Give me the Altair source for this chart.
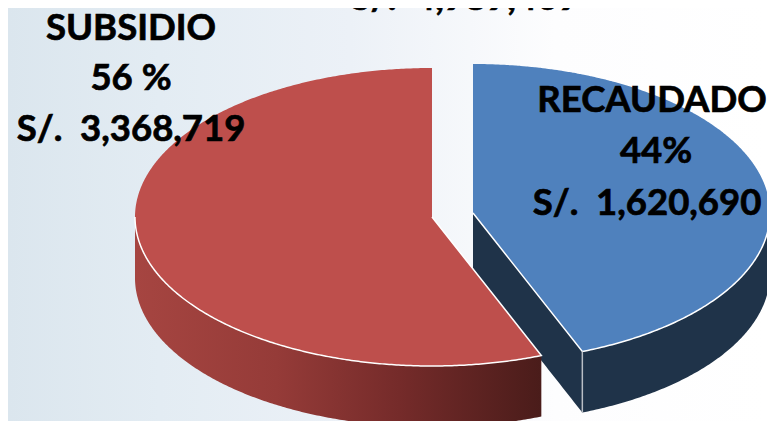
import altair as alt
import numpy as np
import pandas as pd

# Chart values
labels = ["RECAUDADO", "SUBSIDIO"]
shares = [44, 56]
pct_text = ["44%", "56 %"]
amount_text = ["S/.\u00a0\u00a01,620,690", "S/.\u00a0\u00a03,368,719"]
total_text = "S/.\u00a0\u00a04,989,409"

# Layout of the pseudo-3D pie (picture pixels)
W, H = 759, 413
RX, RY, DEPTH = 297.0, 149.0, 61.0
C_BLUE = (473.0, 213.0)
C_RED = (432.0, 217.0)
turn = shares[0] / sum(shares) * 2 * np.pi

x_s = alt.Scale(domain=[8, 767])
y_s = alt.Scale(domain=[421, 8])
X = alt.X("x:Q", scale=x_s, axis=None)
Y = alt.Y("y:Q", scale=y_s, axis=None)


def pt(c, t):
    return c[0] + RX * np.sin(t), c[1] - RY * np.cos(t)


def ell_low(c, x):
    return c[1] + RY * np.sqrt(np.clip(1 - ((x - c[0]) / RX) ** 2, 0, 1))


def ell_up(c, x):
    return c[1] - RY * np.sqrt(np.clip(1 - ((x - c[0]) / RX) ** 2, 0, 1))


def seg(c, x):
    tx, ty = pt(c, turn)
    return c[1] + (x - c[0]) * (ty - c[1]) / (tx - c[0])


def area(x, y, y2, fill):
    d = pd.DataFrame({"x": x, "y": y, "y2": y2})
    return alt.Chart(d).mark_area(fill=fill, interpolate="linear").encode(X, Y, y2="y2:Q")


def line(t_x, t_y, color="white", w=1.5):
    d = pd.DataFrame({"x": t_x, "y": t_y, "i": range(len(t_x))})
    return alt.Chart(d).mark_line(color=color, strokeWidth=w, interpolate="linear").encode(
        X, Y, order="i:Q"
    )


# Background
bg = alt.Chart(pd.DataFrame({"a": [0]})).mark_rect(
    fill=alt.Gradient(
        gradient="linear", x1=0, x2=1, y1=0, y2=0,
        stops=[
            alt.GradientStop(offset=0, color="#DBE6EE"),
            alt.GradientStop(offset=0.2, color="#E3ECF3"),
            alt.GradientStop(offset=0.45, color="#ECF1F7"),
            alt.GradientStop(offset=0.72, color="#FDFDFE"),
            alt.GradientStop(offset=1, color="#FFFFFF"),
        ],
    )
).encode(x=alt.value(0), x2=alt.value(W), y=alt.value(0), y2=alt.value(H))

# Blue slice
btx, bty = pt(C_BLUE, turn)
bx_cut = np.linspace(C_BLUE[0], btx, 40)
bx_rim = C_BLUE[0] + RX * np.sin(np.linspace(np.arcsin((btx - C_BLUE[0]) / RX), np.pi / 2, 120))
blue_cut = area(bx_cut, seg(C_BLUE, bx_cut), seg(C_BLUE, bx_cut) + DEPTH, "#1F3349")
blue_wall = area(bx_rim, ell_low(C_BLUE, bx_rim), ell_low(C_BLUE, bx_rim) + DEPTH, "#1F3349")
bx_top = np.unique(np.concatenate([bx_cut, bx_rim, C_BLUE[0] + RX * np.sin(np.linspace(0, np.pi / 2, 120))]))
b_low = np.where(bx_top <= btx, seg(C_BLUE, bx_top), ell_low(C_BLUE, bx_top))
blue_top = area(bx_top, ell_up(C_BLUE, bx_top), b_low, "#4F81BD")
blue_edge = line(
    np.concatenate([[C_BLUE[0]], bx_rim]),
    np.concatenate([[C_BLUE[1]], ell_low(C_BLUE, bx_rim)]),
)
blue_tip = line([btx, btx], [bty, bty + DEPTH], color="#B9BEC5")

# Red slice
rtx, rty = pt(C_RED, turn)
rx_rim = C_RED[0] + RX * np.sin(np.linspace(-np.pi / 2, np.arcsin((rtx - C_RED[0]) / RX), 240))
red_wall = alt.Chart(
    pd.DataFrame({"x": rx_rim, "y": ell_low(C_RED, rx_rim), "y2": ell_low(C_RED, rx_rim) + DEPTH})
).mark_area(
    interpolate="linear",
    fill=alt.Gradient(
        gradient="linear", x1=0, x2=1, y1=0, y2=0,
        stops=[
            alt.GradientStop(offset=0, color="#A64541"),
            alt.GradientStop(offset=0.35, color="#953B38"),
            alt.GradientStop(offset=0.65, color="#752B2A"),
            alt.GradientStop(offset=1, color="#4A1C1A"),
        ],
    ),
).encode(X, Y, y2="y2:Q")
left = rx_rim[rx_rim < C_RED[0]]
right = rx_rim[rx_rim >= C_RED[0]]
rx_top = np.concatenate([left, [C_RED[0] - 0.01, C_RED[0]], right])
r_up = np.where(rx_top < C_RED[0], ell_up(C_RED, rx_top), seg(C_RED, rx_top))
red_top = area(rx_top, r_up, ell_low(C_RED, rx_top), "#BE4F4C")
red_edge = line(
    np.concatenate([rx_rim, [C_RED[0]]]),
    np.concatenate([ell_low(C_RED, rx_rim), [C_RED[1]]]),
)

# Labels
txt = pd.DataFrame({
    "x": [131, 131, 131, 652, 656, 647, 465],
    "y": [40, 90, 141, 112, 163, 215, 10],
    "t": [labels[1], pct_text[1], amount_text[1], labels[0], pct_text[0], amount_text[0], total_text],
})
text = alt.Chart(txt).mark_text(
    font="Lato", fontWeight="bold", fontSize=36.5, color="#000000",
    stroke="#000000", strokeWidth=0.7,
    align="center", baseline="alphabetic",
).encode(X, Y, text="t:N")

chart = alt.layer(
    bg, blue_cut, blue_wall, blue_top, blue_edge, blue_tip,
    red_wall, red_top, red_edge, text,
).properties(
    width=W, height=H, padding=0, autosize=alt.AutoSizeParams(type="none"),
).configure_view(stroke=None)

chart.save("out.html", embed_options={"renderer": "svg", "actions": False})
